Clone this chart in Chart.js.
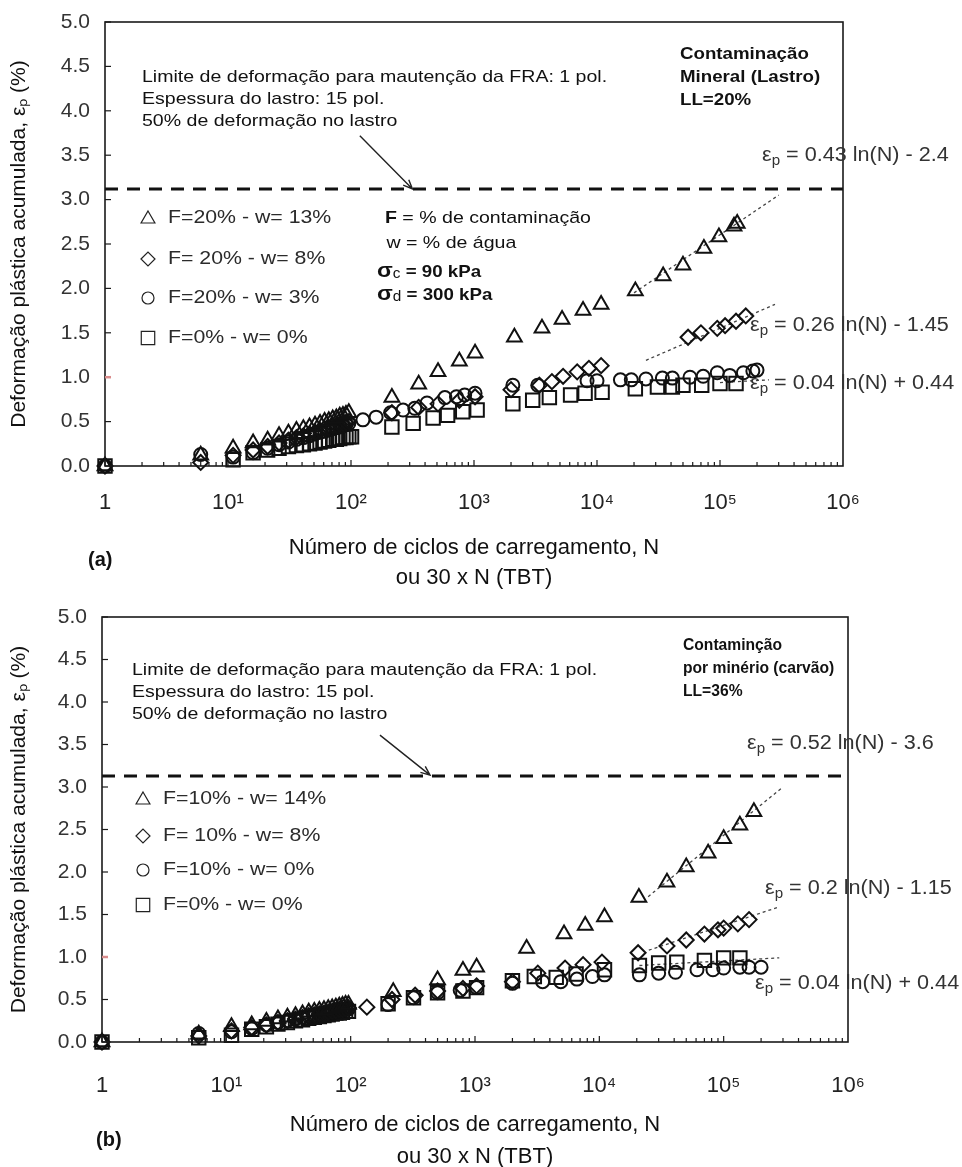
<!DOCTYPE html>
<html>
<head>
<meta charset="utf-8">
<title>Deformação plástica acumulada x número de ciclos</title>
<script src="https://cdn.jsdelivr.net/npm/chart.js@4.4.1/dist/chart.umd.min.js"></script>
<style>
  html, body { margin: 0; padding: 0; background: #fff; }
  canvas { display: block; }
</style>
</head>
<body>
<canvas id="chartA" width="962" height="590"></canvas>
<canvas id="chartB" width="962" height="577"></canvas>
<script>
const FONT = '"Liberation Sans", Arial, Helvetica, sans-serif';
Chart.defaults.font.family = FONT;
Chart.defaults.color = '#222';

// common axis stuff
const tickDecades = [1, 10, 100, 1000, 10000, 100000, 1000000];
const tickLabels = ['1', '10¹', '10²', '10³', '10⁴', '10⁵', '10⁶'];
const limitN = [1, 1000000];

// ---- (a) contaminação mineral (lastro), LL=20% ----
const nA_tri = [1, 6, 11, 16, 21, 26, 31, 36, 41, 46, 51, 56, 61, 66, 71, 76, 81, 86, 91, 96, 215, 355, 510, 760, 1020, 2130, 3570, 5200, 7700, 10800, 20500, 34500, 50000, 74000, 98000, 130000, 138000];
const epsA_tri = [0, 0.12, 0.2, 0.26, 0.29, 0.34, 0.37, 0.4, 0.42, 0.44, 0.46, 0.48, 0.5, 0.51, 0.53, 0.54, 0.56, 0.57, 0.58, 0.6, 0.77, 0.92, 1.06, 1.18, 1.27, 1.45, 1.55, 1.65, 1.75, 1.82, 1.97, 2.14, 2.26, 2.45, 2.58, 2.7, 2.73];

const nA_dia = [1, 6, 11, 16, 21, 26, 31, 36, 41, 46, 51, 56, 61, 66, 71, 76, 81, 86, 91, 96, 215, 355, 510, 760, 1020, 2000, 3400, 4300, 5300, 6900, 8600, 10800, 55000, 70000, 95000, 110000, 135000, 162000];
const epsA_dia = [0, 0.04, 0.12, 0.18, 0.22, 0.26, 0.29, 0.32, 0.34, 0.36, 0.38, 0.4, 0.42, 0.43, 0.45, 0.46, 0.47, 0.48, 0.49, 0.5, 0.6, 0.66, 0.7, 0.74, 0.78, 0.86, 0.91, 0.95, 1.01, 1.06, 1.1, 1.13, 1.45, 1.5, 1.55, 1.58, 1.63, 1.69];

const nA_cir = [1, 6, 11, 16, 21, 26, 31, 36, 41, 46, 51, 56, 61, 66, 71, 76, 81, 86, 91, 96, 125, 160, 210, 265, 330, 415, 580, 720, 840, 1020, 2070, 3300, 8300, 10000, 15500, 19000, 25000, 34000, 41000, 57000, 73000, 95000, 120000, 155000, 185000, 200000];
const epsA_cir = [0, 0.13, 0.1, 0.15, 0.2, 0.24, 0.27, 0.3, 0.32, 0.34, 0.36, 0.38, 0.39, 0.41, 0.42, 0.43, 0.44, 0.45, 0.47, 0.48, 0.52, 0.55, 0.6, 0.63, 0.65, 0.71, 0.77, 0.78, 0.8, 0.82, 0.91, 0.91, 0.96, 0.96, 0.97, 0.97, 0.98, 0.99, 0.99, 1.0, 1.01, 1.05, 1.02, 1.05, 1.07, 1.08];

const nA_sq = [1, 11, 16, 21, 26, 31, 36, 41, 46, 51, 56, 61, 66, 71, 76, 81, 86, 91, 96, 101, 215, 320, 465, 610, 810, 1060, 2070, 3000, 4100, 6100, 8000, 11000, 20500, 31000, 41000, 50000, 71000, 100000, 135000];
const epsA_sq = [0, 0.07, 0.15, 0.18, 0.2, 0.22, 0.23, 0.24, 0.25, 0.26, 0.27, 0.28, 0.29, 0.3, 0.3, 0.31, 0.32, 0.32, 0.33, 0.33, 0.44, 0.48, 0.54, 0.57, 0.61, 0.63, 0.7, 0.74, 0.77, 0.8, 0.82, 0.83, 0.87, 0.89, 0.89, 0.91, 0.91, 0.93, 0.93];

// fitted lines, ends
const trendA_n1 = [20000, 300000], trendA_e1 = [1.95, 3.05];
const trendA_n2 = [25000, 280000], trendA_e2 = [1.19, 1.82];
const trendA_n3 = [100000, 250000], trendA_e3 = [0.94, 0.97];
const limitA = 3.12;

// ---- (b) contaminação por minério (carvão), LL=36% ----
const nB_tri = [1, 6, 11, 16, 21, 26, 31, 36, 41, 46, 51, 56, 61, 66, 71, 76, 81, 86, 91, 96, 220, 500, 800, 1030, 2600, 5200, 7700, 11000, 20800, 35000, 50000, 75000, 100000, 135000, 175000];
const epsB_tri = [0, 0.09, 0.18, 0.2, 0.24, 0.27, 0.29, 0.31, 0.33, 0.35, 0.36, 0.37, 0.38, 0.39, 0.4, 0.41, 0.42, 0.43, 0.44, 0.44, 0.59, 0.73, 0.84, 0.88, 1.1, 1.27, 1.37, 1.47, 1.7, 1.88, 2.06, 2.22, 2.39, 2.55, 2.71];

const nB_dia = [1, 6, 11, 16, 21, 26, 31, 36, 41, 46, 51, 56, 61, 66, 71, 76, 81, 86, 91, 96, 135, 215, 330, 500, 800, 1030, 2000, 3200, 5300, 7400, 10500, 20500, 35000, 50000, 70000, 90000, 100000, 130000, 160000];
const epsB_dia = [0, 0.07, 0.13, 0.17, 0.2, 0.23, 0.25, 0.27, 0.29, 0.31, 0.32, 0.33, 0.34, 0.35, 0.36, 0.37, 0.38, 0.38, 0.39, 0.4, 0.41, 0.5, 0.55, 0.6, 0.63, 0.66, 0.71, 0.81, 0.87, 0.91, 0.94, 1.05, 1.13, 1.2, 1.27, 1.32, 1.34, 1.39, 1.44];

const nB_cir = [1, 6, 11, 16, 21, 26, 31, 36, 41, 46, 51, 56, 61, 66, 71, 76, 81, 86, 91, 96, 200, 320, 500, 760, 1030, 2000, 3500, 4900, 6600, 8800, 11000, 21000, 30000, 41000, 61000, 82000, 100000, 135000, 160000, 200000];
const epsB_cir = [0, 0.1, 0.12, 0.16, 0.2, 0.23, 0.25, 0.27, 0.29, 0.3, 0.31, 0.32, 0.33, 0.34, 0.35, 0.36, 0.37, 0.37, 0.38, 0.39, 0.44, 0.52, 0.58, 0.61, 0.64, 0.69, 0.71, 0.71, 0.74, 0.77, 0.79, 0.79, 0.81, 0.82, 0.85, 0.85, 0.87, 0.88, 0.88, 0.88];

const nB_sq = [1, 6, 11, 16, 21, 26, 31, 36, 41, 46, 51, 56, 61, 66, 71, 76, 81, 86, 91, 96, 200, 320, 500, 800, 1030, 2000, 3000, 4500, 6500, 11000, 21000, 30000, 42000, 70000, 100000, 135000];
const epsB_sq = [0, 0.05, 0.08, 0.15, 0.18, 0.21, 0.23, 0.25, 0.26, 0.28, 0.29, 0.3, 0.31, 0.32, 0.33, 0.34, 0.34, 0.35, 0.36, 0.36, 0.45, 0.52, 0.58, 0.6, 0.64, 0.72, 0.77, 0.76, 0.8, 0.85, 0.9, 0.93, 0.94, 0.96, 0.99, 0.99];

const trendB_n1 = [24700, 300000], trendB_e1 = [1.71, 3.0];
const trendB_n2 = [25000, 280000], trendB_e2 = [1.08, 1.59];
const trendB_n3 = [21000, 280000], trendB_e3 = [0.9, 0.99];
const limitB = 3.13;

const pts = (xs, ys) => xs.map((x, i) => ({ x: x, y: ys[i] }));

// the scanned figure's text is a bit wider than Arial, so stretch it
function wideText(ctx, t, x, y, sx) {
  ctx.save();
  ctx.translate(x, y);
  ctx.scale(sx, 1);
  ctx.fillText(t, 0, 0);
  ctx.restore();
  return ctx.measureText(t).width * sx;
}

// "εp = ..." with a small p
function epsText(ctx, x, y, rest, size, sx) {
  ctx.font = size + 'px ' + FONT;
  let w = wideText(ctx, 'ε', x, y, sx);
  ctx.font = Math.round(size * 0.68) + 'px ' + FONT;
  w += wideText(ctx, 'p', x + w, y + size * 0.3, sx);
  ctx.font = size + 'px ' + FONT;
  wideText(ctx, ' ' + rest, x + w, y, sx);
}

function arrow(ctx, x1, y1, x2, y2) {
  const a = Math.atan2(y2 - y1, x2 - x1);
  ctx.beginPath();
  ctx.moveTo(x1, y1);
  ctx.lineTo(x2, y2);
  ctx.moveTo(x2 - 10 * Math.cos(a - 0.4), y2 - 10 * Math.sin(a - 0.4));
  ctx.lineTo(x2, y2);
  ctx.lineTo(x2 - 10 * Math.cos(a + 0.4), y2 - 10 * Math.sin(a + 0.4));
  ctx.stroke();
}

// frame, inside ticks, legend and the notes of each panel
const panelDecor = {
  id: 'panelDecor',
  afterDraw(chart, args, o) {
    const ctx = chart.ctx;
    const area = chart.chartArea;
    const xs = chart.scales.x, ys = chart.scales.y;
    ctx.save();
    ctx.strokeStyle = '#1a1a1a';
    ctx.lineWidth = 1.6;
    ctx.strokeRect(area.left, area.top, area.right - area.left, area.bottom - area.top);

    // x minor ticks, pointing up
    ctx.lineWidth = 1.2;
    ctx.beginPath();
    for (let d = 0; d < 6; d++) {
      for (let m = 1; m < 10; m++) {
        const px = xs.getPixelForValue(m * Math.pow(10, d));
        ctx.moveTo(px, area.bottom);
        ctx.lineTo(px, area.bottom - (m === 1 ? 6 : 4));
      }
    }
    ctx.stroke();
    // y ticks, pointing right
    for (let v = 0; v <= 5; v += 0.5) {
      const py = ys.getPixelForValue(v);
      ctx.strokeStyle = v === 1 ? '#d98c8c' : '#1a1a1a';
      ctx.lineWidth = v === 1 ? 2.5 : 1.2;
      ctx.beginPath();
      ctx.moveTo(area.left, py);
      ctx.lineTo(area.left + 6, py);
      ctx.stroke();
    }

    // legend
    ctx.textBaseline = 'middle';
    ctx.textAlign = 'left';
    const legR = { triangle: 8, rectRot: 7, circle: 6, rect: 9.5 };
    o.legend.forEach((row, i) => {
      const ds = chart.data.datasets[i];
      ctx.strokeStyle = '#222';
      ctx.fillStyle = 'rgba(0,0,0,0)';
      Chart.helpers.drawPoint(ctx, { pointStyle: ds.pointStyle, radius: legR[ds.pointStyle], borderWidth: 1.4, rotation: 0 }, o.legendX, row.y + (ds.pointStyle === 'triangle' ? 1 : 0));
      ctx.fillStyle = '#2b2b2b';
      ctx.font = '19px ' + FONT;
      wideText(ctx, ds.label, o.legendX + 20, row.y, 1.12);
    });

    // notes
    ctx.fillStyle = '#111';
    ctx.font = '17px ' + FONT;
    o.limitText.forEach((t, i) => wideText(ctx, t, o.limitX, o.limitY + i * 22, 1.15));
    ctx.font = 'bold 17px ' + FONT;
    o.caseText.forEach((t, i) => wideText(ctx, t, o.caseX, o.caseY + i * 23, o.caseStretch));

    ctx.strokeStyle = '#222';
    ctx.lineWidth = 1.4;
    const a = o.arrow;
    arrow(ctx, xs.getPixelForValue(a[0]), ys.getPixelForValue(a[1]), xs.getPixelForValue(a[2]), ys.getPixelForValue(a[3]));

    ctx.fillStyle = '#333';
    o.eqs.forEach(e => epsText(ctx, e.x, e.y, e.t, 20, 1.08));

    if (o.defs) {
      ctx.fillStyle = '#111';
      const d = o.defs;
      ctx.font = 'bold 17px ' + FONT;
      let w = wideText(ctx, 'F', d.x + 4, d.y, 1.15);
      ctx.font = '17px ' + FONT;
      wideText(ctx, ' = % de contaminação', d.x + 4 + w, d.y, 1.15);
      wideText(ctx, ' w = % de água', d.x, d.y + 25, 1.15);
      [['c', ' = 90 kPa'], ['d', ' = 300 kPa']].forEach((s, i) => {
        const yy = d.y + 54 + i * 23;
        ctx.font = 'bold 21px ' + FONT;
        let ww = wideText(ctx, 'σ', d.x - 4, yy - 1, 1.1);
        ctx.font = '14px ' + FONT;
        ww += wideText(ctx, s[0], d.x - 4 + ww, yy + 2, 1.1);
        ctx.font = 'bold 17px ' + FONT;
        wideText(ctx, s[1], d.x - 4 + ww, yy, 1.1);
      });
    }

    ctx.font = 'bold 20px ' + FONT;
    ctx.fillStyle = '#111';
    ctx.fillText(o.tag, o.tagX, o.tagY);
    ctx.restore();
  }
};

function buildChart(id, p) {
  const series = [
    { label: p.labels[0], style: 'triangle', r: 8.5, d: pts(p.tri[0], p.tri[1]) },
    { label: p.labels[1], style: 'rectRot', r: 7.5, d: pts(p.dia[0], p.dia[1]) },
    { label: p.labels[2], style: 'circle', r: 6.5, d: pts(p.cir[0], p.cir[1]) },
    { label: p.labels[3], style: 'rect', r: 9.5, d: pts(p.sq[0], p.sq[1]) }
  ];
  const datasets = series.map(s => ({
    label: s.label,
    data: s.d,
    pointStyle: s.style,
    pointRadius: s.r,
    pointHoverRadius: s.r,
    pointBorderWidth: 2,
    borderColor: '#111',
    backgroundColor: 'rgba(0,0,0,0)',
    showLine: false,
    clip: false
  }));
  p.trends.forEach(t => datasets.push({
    label: 'tendência',
    data: pts(t[0], t[1]),
    showLine: true,
    borderColor: '#444',
    borderWidth: 1.3,
    borderDash: [3, 3],
    pointRadius: 0
  }));
  datasets.push({
    label: 'limite',
    data: pts(limitN, [p.limit, p.limit]),
    showLine: true,
    borderColor: '#111',
    borderWidth: 3,
    borderDash: [13, 9],
    pointRadius: 0
  });

  new Chart(document.getElementById(id), {
    type: 'scatter',
    data: { datasets: datasets },
    options: {
      responsive: false,
      animation: false,
      events: [],
      layout: { padding: { top: p.area.top, right: p.area.right, left: 0, bottom: 0 } },
      scales: {
        x: {
          type: 'logarithmic',
          min: 1,
          max: 1000000,
          grid: { display: false },
          border: { display: false },
          afterBuildTicks: (s) => { s.ticks = tickDecades.map(v => ({ value: v })); },
          afterFit: (s) => { s.height = p.area.xHeight; },
          ticks: {
            autoSkip: false,
            maxRotation: 0,
            padding: p.area.tickPad,
            color: '#222',
            font: { size: 22 },
            callback: (v) => tickLabels[tickDecades.indexOf(v)]
          },
          title: {
            display: true,
            text: ['Número de ciclos de carregamento, N', 'ou 30 x N (TBT)'],
            color: '#111',
            font: { size: 22, lineHeight: p.area.titleLH },
            padding: { top: 0, bottom: p.area.titlePad }
          }
        },
        y: {
          min: 0,
          max: 5,
          grid: { display: false },
          border: { display: false },
          afterFit: (s) => { s.width = p.area.left; },
          ticks: {
            stepSize: 0.5,
            padding: 7,
            color: '#333',
            font: { size: 21 },
            callback: (v) => v.toFixed(1)
          },
          title: {
            display: true,
            text: 'Deformação plástica acumulada, εₚ (%)',
            color: '#111',
            font: { size: 21 },
            padding: { top: 7, bottom: 0 }
          }
        }
      },
      plugins: {
        legend: { display: false },
        tooltip: { enabled: false },
        panelDecor: p.decor
      }
    },
    plugins: [panelDecor]
  });
}

buildChart('chartA', {
  labels: ['F=20% - w= 13%', 'F= 20% - w= 8%', 'F=20% - w= 3%', 'F=0% - w= 0%'],
  tri: [nA_tri, epsA_tri], dia: [nA_dia, epsA_dia], cir: [nA_cir, epsA_cir], sq: [nA_sq, epsA_sq],
  trends: [[trendA_n1, trendA_e1], [trendA_n2, trendA_e2], [trendA_n3, trendA_e3]],
  limit: limitA,
  area: { top: 22, right: 119, left: 105, xHeight: 124, tickPad: 16, titleLH: 1.36, titlePad: -3 },
  decor: {
    legendX: 148,
    legend: [{ y: 218 }, { y: 259 }, { y: 298 }, { y: 338 }],
    limitX: 142, limitY: 77,
    limitText: ['Limite de deformação para mautenção da FRA: 1 pol.', 'Espessura do lastro: 15 pol.', '50% de deformação no lastro'],
    caseX: 680, caseY: 54, caseStretch: 1.1,
    caseText: ['Contaminação', 'Mineral (Lastro)', 'LL=20%'],
    arrow: [118, 3.72, 316, 3.12],
    eqs: [
      { x: 762, y: 155, t: '= 0.43 ln(N) - 2.4' },
      { x: 750, y: 325, t: '= 0.26 ln(N) - 1.45' },
      { x: 750, y: 383, t: '= 0.04 ln(N) + 0.44' }
    ],
    defs: { x: 381, y: 218 },
    tag: '(a)', tagX: 88, tagY: 560
  }
});

buildChart('chartB', {
  labels: ['F=10% - w= 14%', 'F= 10% - w= 8%', 'F=10% - w= 0%', 'F=0% - w= 0%'],
  tri: [nB_tri, epsB_tri], dia: [nB_dia, epsB_dia], cir: [nB_cir, epsB_cir], sq: [nB_sq, epsB_sq],
  trends: [[trendB_n1, trendB_e1], [trendB_n2, trendB_e2], [trendB_n3, trendB_e3]],
  limit: limitB,
  area: { top: 27, right: 114, left: 102, xHeight: 125, tickPad: 23, titleLH: 1.45, titlePad: -6 },
  decor: {
    legendX: 143,
    legend: [{ y: 209 }, { y: 246 }, { y: 280 }, { y: 315 }],
    limitX: 132, limitY: 80,
    limitText: ['Limite de deformação para mautenção da FRA: 1 pol.', 'Espessura do lastro: 15 pol.', '50% de deformação no lastro'],
    caseX: 683, caseY: 55, caseStretch: 0.92,
    caseText: ['Contaminção', 'por minério (carvão)', 'LL=36%'],
    arrow: [172, 3.61, 435, 3.14],
    eqs: [
      { x: 747, y: 153, t: '= 0.52 ln(N) - 3.6' },
      { x: 765, y: 298, t: '= 0.2 ln(N) - 1.15' },
      { x: 755, y: 393, t: '= 0.04 ln(N) + 0.44' }
    ],
    defs: null,
    tag: '(b)', tagX: 96, tagY: 550
  }
});
</script>
</body>
</html>
